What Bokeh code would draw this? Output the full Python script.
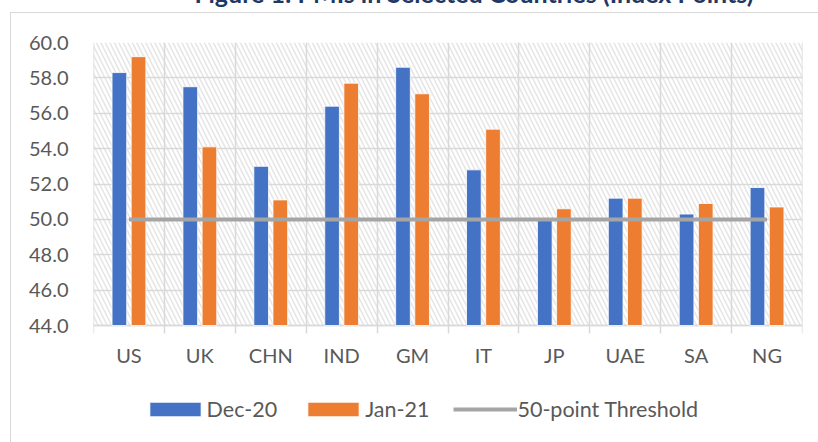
from bokeh.plotting import figure
from bokeh.models import (Range1d, FixedTicker, Legend, LegendItem, Label,
                          PrintfTickFormatter, ColumnDataSource)
from bokeh.transform import dodge
from bokeh.embed import file_html
from bokeh.resources import INLINE

# ---- data ----
categories = ["US", "UK", "CHN", "IND", "GM", "IT", "JP", "UAE", "SA", "NG"]
dec_20 = [58.3, 57.5, 53.0, 56.4, 58.6, 52.8, 50.0, 51.2, 50.3, 51.8]
jan_21 = [59.2, 54.1, 51.1, 57.7, 57.1, 55.1, 50.6, 51.2, 50.9, 50.7]
threshold = [50.0, 50.0, 50.0, 50.0, 50.0, 50.0, 50.0, 50.0, 50.0, 50.0]
y_ticks = [44.0, 46.0, 48.0, 50.0, 52.0, 54.0, 56.0, 58.0, 60.0]
series_names = ["Dec-20", "Jan-21", "50-point Threshold"]
title_text = "Figure 1: PMIs in Selected Countries (Index Points)"

# ---- styles / layout ----
BLUE = "#4472C4"
ORANGE = "#ED7D31"
GREY_LINE = "#A5A5A5"
GRID = "#D9D9D9"
TXT = "#595959"
FONT = "Lato"
W, H = 818, 442
LEFT, RIGHT, TOP = 93, 16, 42
PLOT_H = 283            # pixel height of the value area (44..60)
BELOW = H - TOP - PLOT_H  # space below the value area (labels + legend)

n = len(categories)
centers = [i + 0.5 for i in range(n)]
src = ColumnDataSource(dict(x=centers, cat=categories, dec=dec_20, jan=jan_21, thr=threshold))

y_min, y_max = y_ticks[0], y_ticks[-1]
y_start = y_min - BELOW * (y_max - y_min) / PLOT_H

p = figure(width=W, height=H, x_range=Range1d(0, n), y_range=Range1d(y_start, y_max),
           output_backend="svg", toolbar_location=None,
           min_border_left=LEFT, min_border_right=RIGHT, min_border_top=TOP, min_border_bottom=0)
p.outline_line_color = None
p.background_fill_color = "white"
p.border_fill_alpha = 0
# thin chart-area border (left and top edges) painted behind the transparent canvas border
p.styles = {"background": ("linear-gradient(#D9D9D9,#D9D9D9) 10px 12px / 1px 100% no-repeat, "
                           "linear-gradient(#D9D9D9,#D9D9D9) 10px 12px / 100% 1px no-repeat, white")}

# hatched value area background
p.quad(left=[0], right=[n], bottom=[y_min], top=[y_max], fill_color=None, line_color=None,
       hatch_pattern="\\", hatch_color="#E6E6E6", hatch_scale=9, hatch_weight=1.6, level="image")

bw = 0.207
off = 0.135
r_dec = p.vbar(x=dodge("x", -off), top="dec", bottom=y_min, width=bw, source=src,
               fill_color=BLUE, line_color="white", line_width=0.8)
r_jan = p.vbar(x=dodge("x", off), top="jan", bottom=y_min, width=bw, source=src,
               fill_color=ORANGE, line_color="white", line_width=0.8)
r_thr = p.line(x="x", y="thr", source=src, line_color=GREY_LINE, line_width=4)

# category axis drawn at the bottom of the value area; its minor ticks form the
# vertical category separators
xa = p.xaxis[0]
xa.fixed_location = y_min
xa.level = "underlay"
xa.ticker = FixedTicker(ticks=centers, minor_ticks=list(range(n + 1)))
xa.major_label_overrides = {c: lab for c, lab in zip(centers, categories)}
xa.major_tick_line_color = None
xa.minor_tick_line_color = GRID
xa.minor_tick_line_width = 1.5
xa.minor_tick_in = PLOT_H
xa.minor_tick_out = 8
xa.axis_line_color = GRID
xa.axis_line_width = 1.5
xa.major_label_standoff = 9
xa.major_label_text_font = FONT
xa.major_label_text_font_size = "20px"
xa.major_label_text_color = TXT

ya = p.yaxis[0]
ya.ticker = FixedTicker(ticks=y_ticks)
ya.formatter = PrintfTickFormatter(format="%.1f")
ya.axis_line_color = None
ya.major_tick_line_color = None
ya.minor_tick_line_color = None
ya.major_label_standoff = 19
ya.major_label_text_font = FONT
ya.major_label_text_font_size = "20px"
ya.major_label_text_color = TXT

p.xgrid.grid_line_color = None
p.ygrid.ticker = FixedTicker(ticks=y_ticks)
p.ygrid.grid_line_color = GRID
p.ygrid.grid_line_width = 1.5

# title (its top is cut off by the page edge, as in the source)
p.add_layout(Label(x=380.5, y=50, x_units="screen", y_units="screen", text=title_text,
                   text_align="center", text_baseline="alphabetic", text_font=FONT,
                   text_font_style="bold", text_font_size="25px", text_color="#1F3864"),
             "above")

legend = Legend(items=[LegendItem(label=series_names[0], renderers=[r_dec]),
                       LegendItem(label=series_names[1], renderers=[r_jan]),
                       LegendItem(label=series_names[2], renderers=[r_thr])],
                orientation="horizontal", location=(49.6, 20),
                glyph_width=64, glyph_height=18, label_standoff=0, spacing=24,
                padding=0, margin=0, border_line_color=None, background_fill_alpha=0,
                label_text_font=FONT, label_text_font_size="21.5px", label_text_color=TXT)
p.add_layout(legend, "center")

open("out.html", "w").write(file_html(p, INLINE))
